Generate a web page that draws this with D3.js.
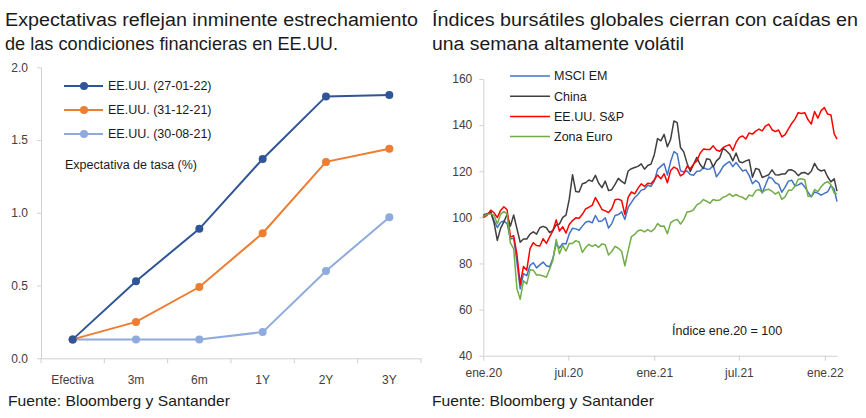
<!DOCTYPE html>
<html>
<head>
<meta charset="utf-8">
<script src="https://cdn.jsdelivr.net/npm/d3@7"></script>
<style>
  body { margin: 0; background: #fff; }
  svg { display: block; font-family: "Liberation Sans", Arial, sans-serif; }
  .axis path, .axis line { stroke: #d0d0d0; }
  .axis text { fill: #404040; font-size: 12px; }
</style>
</head>
<body>
<svg id="chart" width="866" height="418"></svg>
<script>
// Left chart: rate expectations
const tenors = ["Efectiva", "3m", "6m", "1Y", "2Y", "3Y"];
const rate270122 = [0.13, 0.53, 0.89, 1.37, 1.80, 1.81];
const rate311221 = [0.13, 0.25, 0.49, 0.86, 1.35, 1.44];
const rate300821 = [0.13, 0.13, 0.13, 0.18, 0.60, 0.97];
const rateNames = ["EE.UU. (27-01-22)", "EE.UU. (31-12-21)", "EE.UU. (30-08-21)"];
const rateColors = ["#2f5597", "#ed7d31", "#8faadc"];
const rateTicks = [0, 0.5, 1, 1.5, 2];

// Right chart: weekly index levels (ene.20 = 100)
const startDate = new Date(2020, 0, 1);
const endDate = new Date(2022, 0, 27);
const idxNames = ["MSCI EM", "China", "EE.UU. S&P", "Zona Euro"];
const idxColors = ["#4472c4", "#3f3f3f", "#ff0000", "#70ad47"];
const msciEM = [100,
  100.4,101.6,102.2,98.6,95.6, 97.8,98.4,97.3,90.6, 91.0,80.5,69.0,75.6, 74.7,79.2,80.3,78.1,
  79.4,80.6,79.0,78.6,82.3, 88.4,86.7,88.7,88.4, 92.8,95.3,95.0,94.4,96.2, 97.9,98.3,97.6,100.8,
  98.2,98.4,99.8,95.4, 97.3,100.8,101.2,102.4,99.1, 104.3,106.5,108.6,109.9, 111.8,112.2,113.9,113.4,
  115.7,120.8,122.1,123.3,118.4, 124.2,128.5,127.5,120.2, 119.7,120.1,118.6,118.3, 120.0,120.1,121.5,120.9,121.0,
  122.5,117.6,119.5,122.0, 123.3,124.2,122.0,123.8, 121.9,120.1,120.6,118.2,114.6, 116.0,114.9,110.6,114.0,
  117.5,116.9,115.0,114.3, 110.9,113.1,115.7,116.1,113.6, 114.1,114.9,113.2,110.9, 108.9,111.0,110.5,109.6,110.4,
  111.1,113.8,112.2, 106.8];
const china = [100,
  101.2,101.6,102.2,97.7,90.0, 95.2,98.0,101.3,96.2, 101.0,95.1,89.2,90.6, 90.6,92.7,93.7,92.7,
  95.5,96.1,95.5,93.4,94.4, 96.7,97.1,100.0,101.0, 107.9,118.5,111.2,111.0,114.6, 115.0,116.2,115.6,118.2,
  114.8,112.9,115.7,111.6, 112.0,114.3,116.9,115.6,114.6, 120.1,121.1,121.6,122.1, 123.2,120.9,122.5,123.1,
  127.2,134.2,133.2,136.0,130.6, 133.9,141.8,141.1,130.3, 128.4,123.5,119.9,123.0, 126.0,122.9,121.2,125.4,125.1,
  121.9,124.5,125.8,129.9, 128.9,127.5,124.5,127.9, 124.1,123.7,124.5,125.0,117.4, 121.2,120.8,117.3,117.9,
  118.5,120.6,118.5,118.4, 118.8,118.8,120.5,120.6,119.8, 118.1,119.3,119.5,118.6, 120.0,123.4,120.9,120.1,120.6,
  117.6,115.4,116.7, 111.4];
const usSP = [100,
  100.1,101.1,103.1,102.0,99.9, 103.0,104.6,103.3,91.4, 92.0,83.9,71.0,78.7, 77.1,86.4,89.0,87.8,
  87.6,90.7,88.7,91.5,94.2, 98.9,94.1,95.9,93.2, 96.9,98.6,99.8,99.6,101.3, 103.7,104.4,105.2,108.6,
  106.1,103.4,102.8,102.1, 103.7,107.6,107.9,107.3,101.2, 108.7,111.0,110.2,112.6, 114.5,113.4,114.8,114.6,
  116.3,118.4,116.7,118.9,115.0, 120.3,121.8,121.0,118.0, 118.9,122.1,121.1,123.1, 124.5,127.8,129.6,129.4,129.4,
  131.0,129.2,128.7,130.2, 131.0,131.5,129.0,132.5, 134.7,135.3,134.0,136.6,136.1, 137.4,138.3,137.5,139.6,
  140.4,138.0,137.2,137.9, 134.9,135.9,138.4,140.7,142.6, 145.4,145.0,145.4,142.3, 140.5,145.9,143.0,146.3,147.6,
  144.8,144.4,136.2, 133.9];
const euroZone = [100,
  100.7,101.3,101.5,100.9,97.2, 101.4,102.5,101.5,88.9, 86.3,69.1,64.5,72.5, 71.1,77.3,77.1,75.0,
  75.0,74.6,74.0,77.6,81.4, 90.4,84.2,87.8,85.4, 88.7,88.7,89.9,89.3,84.8, 86.9,88.3,87.4,88.1,
  87.0,88.5,88.1,83.7, 85.2,87.4,86.6,85.3,79.0, 85.6,91.6,92.6,94.2, 94.5,93.7,94.7,93.8,
  94.9,97.3,96.1,96.2,92.9, 97.6,98.7,99.1,97.1, 99.0,102.3,102.5,103.3, 105.4,106.2,107.7,107.0,106.1,
  107.7,107.3,107.5,108.7, 109.2,110.2,109.1,109.9, 109.1,108.7,107.7,109.7,109.2, 111.5,112.1,110.8,111.9,
  112.2,111.3,110.1,111.0, 107.8,108.9,111.7,111.8,113.5, 116.5,116.7,116.3,109.2, 109.0,112.1,111.1,113.3,114.8,
  115.5,114.1,110.5, 110.2];
const idxTicks = [40, 60, 80, 100, 120, 140, 160];
const monthsES = ["ene","feb","mar","abr","may","jun","jul","ago","sep","oct","nov","dic"];

// weekly Friday observations between the first and last day
const weeks = [startDate]
  .concat(d3.timeFriday.range(new Date(2020, 0, 2), new Date(2022, 0, 22)))
  .concat([endDate]);

const svg = d3.select("#chart");
const textColor = "#1a1a1a";

// Titles and sources
function titleLine(x, y, txt, len, size) {
  svg.append("text")
    .attr("x", x).attr("y", y)
    .attr("font-size", size)
    .attr("fill", textColor)
    .attr("textLength", len)
    .attr("lengthAdjust", "spacingAndGlyphs")
    .text(txt);
}
titleLine(5, 26, "Expectativas reflejan inminente estrechamiento", 413, 18);
titleLine(5, 50, "de las condiciones financieras en EE.UU.", 333, 18);
titleLine(432, 26, "Índices bursátiles globales cierran con caídas en", 426, 18);
titleLine(432, 50, "una semana altamente volátil", 252, 18);
titleLine(8, 406, "Fuente: Bloomberg y Santander", 222, 15);
titleLine(432, 406, "Fuente: Bloomberg y Santander", 222, 15);

// ---------- Left chart ----------
const lx = d3.scaleBand().domain(tenors).range([41, 421]);
const ly = d3.scaleLinear().domain([0, 2]).range([358.3, 67.3]);

const lyAxis = svg.append("g")
  .attr("class", "axis")
  .attr("transform", "translate(41,0)")
  .call(d3.axisLeft(ly).tickValues(rateTicks).tickFormat(d3.format(".1f")).tickSize(4).tickSizeOuter(0));
lyAxis.selectAll("text").attr("x", -13);

const lxAxis = svg.append("g")
  .attr("class", "axis")
  .attr("transform", "translate(0,358.3)")
  .call(d3.axisBottom(lx).tickSize(0).tickSizeOuter(0));
lxAxis.selectAll("text").attr("dy", "1.9em");
// tick marks between categories
lxAxis.selectAll("line.sep")
  .data(tenors.concat(["end"]))
  .enter()
  .append("line")
  .attr("class", "sep")
  .attr("x1", (d, i) => lx.range()[0] + i * lx.step())
  .attr("x2", (d, i) => lx.range()[0] + i * lx.step())
  .attr("y1", 0)
  .attr("y2", 5);

const rateSeries = [rate270122, rate311221, rate300821];
const rateLine = d3.line()
  .x((d, i) => lx(tenors[i]) + lx.bandwidth() / 2)
  .y((d) => ly(d));

// draw lightest first so darker ones sit on top
[2, 1, 0].forEach((k) => {
  const g = svg.append("g");
  g.append("path")
    .attr("d", rateLine(rateSeries[k]))
    .attr("fill", "none")
    .attr("stroke", rateColors[k])
    .attr("stroke-width", 2);
  g.selectAll("circle")
    .data(rateSeries[k])
    .enter()
    .append("circle")
    .attr("cx", (d, i) => lx(tenors[i]) + lx.bandwidth() / 2)
    .attr("cy", (d) => ly(d))
    .attr("r", 4)
    .attr("fill", rateColors[k]);
});

// Left legend
const lLegend = svg.append("g").attr("transform", "translate(64,86)");
rateNames.forEach((name, i) => {
  const row = lLegend.append("g").attr("transform", `translate(0,${i * 24})`);
  row.append("line")
    .attr("x1", 0).attr("x2", 39)
    .attr("stroke", rateColors[i]).attr("stroke-width", 2);
  row.append("circle").attr("cx", 20).attr("r", 4).attr("fill", rateColors[i]);
  row.append("text")
    .attr("x", 44).attr("dy", "0.35em")
    .attr("font-size", 12.5).attr("fill", textColor)
    .text(name);
});
svg.append("text")
  .attr("x", 65).attr("y", 165).attr("dy", "0.35em")
  .attr("font-size", 12.5).attr("fill", textColor)
  .text("Expectativa de tasa (%)");

// ---------- Right chart ----------
const rx = d3.scaleTime().domain([startDate, endDate]).range([483.3, 837]);
const ry = d3.scaleLinear().domain([40, 160]).range([355.7, 79]);

const ryAxis = svg.append("g")
  .attr("class", "axis")
  .attr("transform", "translate(483.3,0)")
  .call(d3.axisLeft(ry).tickValues(idxTicks).tickSize(4).tickSizeOuter(0));
ryAxis.selectAll("text").attr("x", -11);

const xTickDates = [new Date(2020, 0, 1), new Date(2020, 6, 1), new Date(2021, 0, 1),
  new Date(2021, 6, 1), new Date(2022, 0, 1)];
const rxAxis = svg.append("g")
  .attr("class", "axis")
  .attr("transform", "translate(0,355.7)")
  .call(d3.axisBottom(rx)
    .tickValues(xTickDates)
    .tickFormat((d) => monthsES[d.getMonth()] + "." + String(d.getFullYear()).slice(2))
    .tickSize(5).tickSizeOuter(0));
rxAxis.selectAll("text").attr("dy", "1.1em");

const idxSeries = [msciEM, china, usSP, euroZone];
const idxLine = d3.line()
  .x((d, i) => rx(weeks[i]))
  .y((d) => ry(d));

idxSeries.forEach((vals, k) => {
  svg.append("path")
    .attr("d", idxLine(vals))
    .attr("fill", "none")
    .attr("stroke", idxColors[k])
    .attr("stroke-width", 1.5)
    .attr("stroke-linejoin", "round");
});

// Right legend
const rLegend = svg.append("g").attr("transform", "translate(510,76)");
idxNames.forEach((name, i) => {
  const row = rLegend.append("g").attr("transform", `translate(0,${i * 20.2})`);
  row.append("line")
    .attr("x1", 0).attr("x2", 40)
    .attr("stroke", idxColors[i]).attr("stroke-width", 1.5);
  row.append("text")
    .attr("x", 44).attr("dy", "0.35em")
    .attr("font-size", 12.5).attr("fill", textColor)
    .text(name);
});
svg.append("text")
  .attr("x", 672).attr("y", 331).attr("dy", "0.35em")
  .attr("font-size", 12.5).attr("fill", textColor)
  .text("Índice ene.20 = 100");
</script>
</body>
</html>
